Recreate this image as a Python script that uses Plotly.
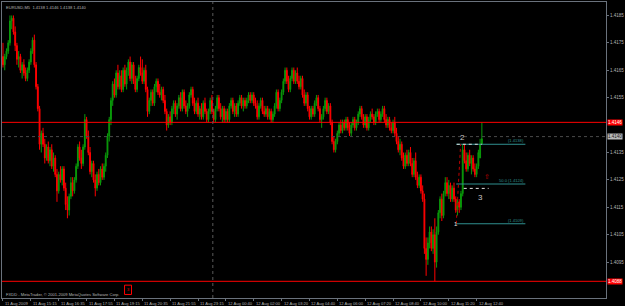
import plotly.graph_objects as go

# ---- data (prices in pips above 1.4000; price = 1.4 + pips/10000) ----
BASE = 1.4
opens = [
    170,167,170,172,175,183,184,179,174,169, 170,165,167,164,162,165,168,172,176,167,
    159,151,138,142,138,133,137,132,136,130, 133,127,121,127,125,129,122,116,114,119,
    124,121,125,130,137,133,131,137,147,141, 135,128,131,125,122,127,124,129,126,130,
    134,141,147,154,160,156,164,159,163,158, 165,160,165,168,162,167,161,158,162,166,
    164,161,165,158,150,154,157,153,159,161, 157,156,158,154,150,145,148,146,151,153,
    149,152,155,151,157,152,150,152,156,158, 153,150,153,149,151,148,153,150,147,150,
    154,150,147,151,155,151,148,151,147,150, 147,152,154,150,152,149,153,155,152,154,
    152,154,156,154,156,153,152,148,152,154, 150,149,151,148,150,147,149,152,157,151,
    154,157,161,165,161,158,162,165,161,164, 161,159,162,156,153,156,151,148,151,149,
    153,155,151,147,148,151,154,150,152,146, 139,136,139,142,145,143,146,144,147,144,
    142,145,147,144,146,149,151,148,145,148, 144,147,149,148,146,149,150,147,149,151,
    147,145,147,144,143,146,142,139,136,138, 133,130,134,131,135,131,127,132,126,123,
    126,121,118,100,96,102,106,100,105,95, 106,113,118,112,120,124,120,123,118,122,
    118,114,117,115,120,136,132,129,134,131, 133,129,127,130,133,138,
]
highs = [
    175,171,173,176,185,185,185,181,175,172, 171,168,169,166,166,169,173,177,178,168,
    160,152,143,144,140,138,139,137,138,135, 134,129,128,130,130,130,124,119,120,126,
    126,126,131,138,139,136,138,149,148,143, 137,132,132,127,128,129,130,131,131,135,
    142,148,155,161,162,165,167,165,165,166, 167,166,169,170,168,168,163,163,167,170,
    169,166,167,159,155,158,158,160,162,162, 160,159,159,156,151,149,150,152,154,154,
    153,156,157,158,158,154,153,157,159,159, 155,154,155,152,153,154,155,151,151,155,
    156,151,152,156,156,153,152,152,151,151, 153,155,155,153,153,154,156,156,155,155,
    155,157,157,157,157,155,154,153,155,155, 152,152,152,151,151,150,153,158,158,155,
    158,162,166,166,163,163,166,166,165,166, 163,163,163,158,157,157,152,152,152,154,
    156,156,152,149,152,155,155,153,153,147, 141,140,143,146,147,147,147,148,148,146,
    146,148,148,147,150,152,152,149,149,149, 148,150,151,149,150,151,151,150,152,152,
    149,148,148,146,147,148,144,141,140,139, 135,135,136,136,137,133,133,135,128,127,
    127,123,120,104,104,108,108,107,111,108, 114,119,120,121,126,126,125,124,123,124,
    119,118,118,121,138,138,135,135,136,134, 134,131,131,136,140,146,
]
lows = [
    166,165,169,171,174,180,178,172,167,166, 164,162,163,161,161,164,167,171,166,158,
    150,136,135,137,131,132,131,130,129,128, 126,117,120,124,123,121,114,111,112,118,
    119,120,124,129,132,129,130,136,140,134, 127,126,124,119,121,123,123,125,125,128,
    133,139,145,152,155,155,158,158,157,157, 159,158,163,161,160,160,157,157,161,163,
    160,160,157,148,149,152,152,152,157,156, 155,154,153,149,143,144,145,145,149,148,
    147,151,150,150,151,149,148,151,155,152, 149,149,148,147,147,147,149,146,146,149,
    149,146,146,150,150,147,146,146,146,146, 146,151,149,148,148,148,152,151,150,151,
    151,153,153,153,152,151,147,147,151,149, 148,148,147,147,146,146,148,151,150,150,
    153,156,160,160,157,157,161,160,160,160, 158,158,155,152,152,150,147,147,148,148,
    152,150,146,144,147,150,149,149,145,138, 135,135,138,141,142,142,143,143,143,141,
    141,144,143,143,145,148,147,144,144,143, 143,146,147,145,145,148,146,146,148,146,
    144,144,143,142,142,141,138,135,134,132, 129,129,130,130,130,126,126,125,122,122,
    120,117,98,90,94,100,99,98,88,93, 105,111,110,111,119,119,118,117,117,117,
    113,112,113,114,119,131,128,128,130,127, 128,126,126,129,133,138,
]
closes = [
    167,170,172,175,183,184,179,174,169,170, 165,167,164,162,165,168,172,176,167,159,
    151,138,142,138,133,137,132,136,130,133, 127,121,127,125,129,122,116,114,119,124,
    121,125,130,137,133,131,137,147,141,135, 128,131,125,122,127,124,129,126,130,134,
    141,147,154,160,156,164,159,163,158,165, 160,165,168,162,167,161,158,162,166,164,
    161,165,158,150,154,157,153,159,161,157, 156,158,154,150,145,148,146,151,153,149,
    152,155,151,157,152,150,152,156,158,153, 150,153,149,151,148,153,150,147,150,154,
    150,147,151,155,151,148,151,147,150,147, 152,154,150,152,149,153,155,152,154,152,
    154,156,154,156,153,152,148,152,154,150, 149,151,148,150,147,149,152,157,151,154,
    157,161,165,161,158,162,165,161,164,161, 159,162,156,153,156,151,148,151,149,153,
    155,151,147,148,151,154,150,152,146,139, 136,139,142,145,143,146,144,147,144,142,
    145,147,144,146,149,151,148,145,148,144, 147,149,148,146,149,150,147,149,151,147,
    145,147,144,143,146,142,139,136,138,133, 130,134,131,135,131,127,132,126,123,126,
    121,118,100,96,102,106,100,105,95,106, 113,118,112,120,124,120,123,118,122,118,
    114,117,115,120,136,132,129,134,131,133, 129,127,130,135,138,140,
]
time_labels = ["11 Aug 2009", "11 Aug 15:15", "11 Aug 16:35", "11 Aug 17:55", "11 Aug 19:15",
               "11 Aug 20:35", "11 Aug 21:55", "11 Aug 23:15", "12 Aug 00:40", "12 Aug 02:00",
               "12 Aug 03:20", "12 Aug 04:40", "12 Aug 06:00", "12 Aug 07:20", "12 Aug 08:40",
               "12 Aug 10:00", "12 Aug 11:20", "12 Aug 12:40"]
time_label_bars = [16 * k for k in range(len(time_labels))]
price_ticks = [1.4185, 1.4175, 1.4165, 1.4155, 1.4135, 1.4125, 1.4115, 1.4105, 1.4095]
level_high = 1.4146     # red line
level_bid = 1.41408     # current bid (dotted)
level_low = 1.4088      # red line
fib_levels = [1.4138, 1.41235, 1.4109]
fib_texts = ["(1.4138)", "50.0 (1.4124)", "(1.4109)"]
header = "EURUSD,M5  1.4138 1.4146 1.4138 1.4140"
copyright_txt = "FXDD - MetaTrader, \u00a9 2001-2009 MetaQuotes Software Corp."

def px(v):
    return BASE + v / 10000.0

O = [px(v) for v in opens]
H = [px(v) for v in highs]
L = [px(v) for v in lows]
C = [px(v) for v in closes]
idx = list(range(len(C)))

GREEN = "#0a9a0a"
RED = "#ff0000"
AXIS = "#6a727c"
TXT = "#b4b4b4"
TEAL = "#2f8f8f"
FONT = "Liberation Sans"
SMALL = 4.1

fig = go.Figure(go.Candlestick(
    x=idx, open=O, high=H, low=L, close=C,
    increasing=dict(line=dict(color=GREEN, width=1), fillcolor=GREEN),
    decreasing=dict(line=dict(color=RED, width=1), fillcolor=RED),
    whiskerwidth=0, hoverinfo="skip"))

YLO, YHI = 1.408191, 1.418991
XLO, XHI = -0.571, 346.29

shapes = []
shapes.append(dict(type="line", xref="paper", x0=0, x1=1, y0=level_high, y1=level_high,
                   line=dict(color=RED, width=1)))
shapes.append(dict(type="line", xref="paper", x0=0, x1=1, y0=level_bid, y1=level_bid,
                   line=dict(color="#4a4a4a", width=1, dash="dot")))
shapes.append(dict(type="line", xref="paper", x0=0, x1=1, y0=level_low, y1=level_low,
                   line=dict(color=RED, width=1)))
shapes.append(dict(type="line", x0=120.5, x1=120.5, yref="paper", y0=0, y1=1,
                   line=dict(color="#5a5a5a", width=1, dash="dot")))
for lv in fib_levels:
    shapes.append(dict(type="line", x0=260.3, x1=300, y0=lv, y1=lv,
                       line=dict(color=TEAL, width=1)))
shapes.append(dict(type="line", x0=260.3, x1=262.8, y0=fib_levels[2], y1=fib_levels[0],
                   line=dict(color="#c00000", width=1, dash="dot")))
shapes.append(dict(type="line", x0=260.6, x1=274.9, y0=1.4138, y1=1.4138,
                   line=dict(color="#e0e0e0", width=1, dash="dot")))
shapes.append(dict(type="line", x0=264.6, x1=278.9, y0=1.41219, y1=1.41219,
                   line=dict(color="#e0e0e0", width=1, dash="dot")))
shapes.append(dict(type="rect", x0=69.8, x1=73.8, y0=1.40832, y1=1.40866,
                   line=dict(color=RED, width=1)))

ann = []
ann.append(dict(xref="paper", yref="paper", x=0.003, y=0.996, xanchor="left", yanchor="top",
                text=header, showarrow=False, font=dict(size=SMALL, color=TXT, family=FONT)))
ann.append(dict(xref="paper", yref="paper", x=0.003, y=0.012, xanchor="left", yanchor="middle",
                text=copyright_txt, showarrow=False, font=dict(size=SMALL, color=TXT, family=FONT)))
ann.append(dict(x=71.8, y=1.40849, text="3", showarrow=False,
                font=dict(size=4, color=RED, family=FONT)))
for b, t in zip(time_label_bars, time_labels):
    ann.append(dict(x=b, xshift=0, yref="paper", y=-0.017, xanchor="left", yanchor="middle",
                    text=t, showarrow=False, font=dict(size=SMALL, color=TXT, family=FONT)))
for lv, t in zip(fib_levels, fib_texts):
    ann.append(dict(x=300, y=lv, xanchor="right", yanchor="bottom", text=t, showarrow=False,
                    font=dict(size=SMALL, color=TEAL, family=FONT), borderpad=0))
ann.append(dict(x=264, y=1.41405, text="2", showarrow=False,
                font=dict(size=8, color="#c8c8c8", family=FONT)))
ann.append(dict(x=274.3, y=1.41186, text="3", showarrow=False,
                font=dict(size=8, color="#c8c8c8", family=FONT)))
ann.append(dict(x=260, y=1.41088, text="1", showarrow=False,
                font=dict(size=6, color="#e0e0e0", family=FONT)))
ann.append(dict(x=277.8, y=1.41259, text="\u21e7", showarrow=False,
                font=dict(size=7, color="#c00000", family="DejaVu Sans")))
for lv, txt, bg, fg in [(level_high, "1.4146", RED, "#ffffff"),
                        (level_bid, "1.4140", "#b8b8b8", "#202020"),
                        (level_low, "1.4088", RED, "#ffffff")]:
    ann.append(dict(xref="paper", x=1, xshift=1, y=lv, xanchor="left", yanchor="middle",
                    text=txt, showarrow=False, bgcolor=bg, borderpad=0,
                    font=dict(size=SMALL + 0.4, color=fg, family=FONT)))

fig.update_layout(
    width=625, height=306, margin=dict(l=1, r=17, t=1, b=8),
    paper_bgcolor="#000000", plot_bgcolor="#000000", showlegend=False,
    shapes=shapes, annotations=ann,
    xaxis=dict(range=[XLO, XHI], rangeslider=dict(visible=False), showgrid=False,
               zeroline=False, showline=True, linecolor=AXIS, linewidth=1, mirror=True,
               ticks="outside", ticklen=2, tickcolor=AXIS, tickvals=time_label_bars,
               showticklabels=False, fixedrange=True),
    yaxis=dict(range=[YLO, YHI], side="right", showgrid=False, zeroline=False,
               showline=True, linecolor=AXIS, linewidth=1, mirror=True,
               ticks="outside", ticklen=2, tickcolor=AXIS, tickvals=price_ticks,
               ticktext=["%.4f" % v for v in price_ticks],
               tickfont=dict(size=SMALL + 0.4, color=TXT, family=FONT), fixedrange=True),
)

fig.write_html("out.html")
